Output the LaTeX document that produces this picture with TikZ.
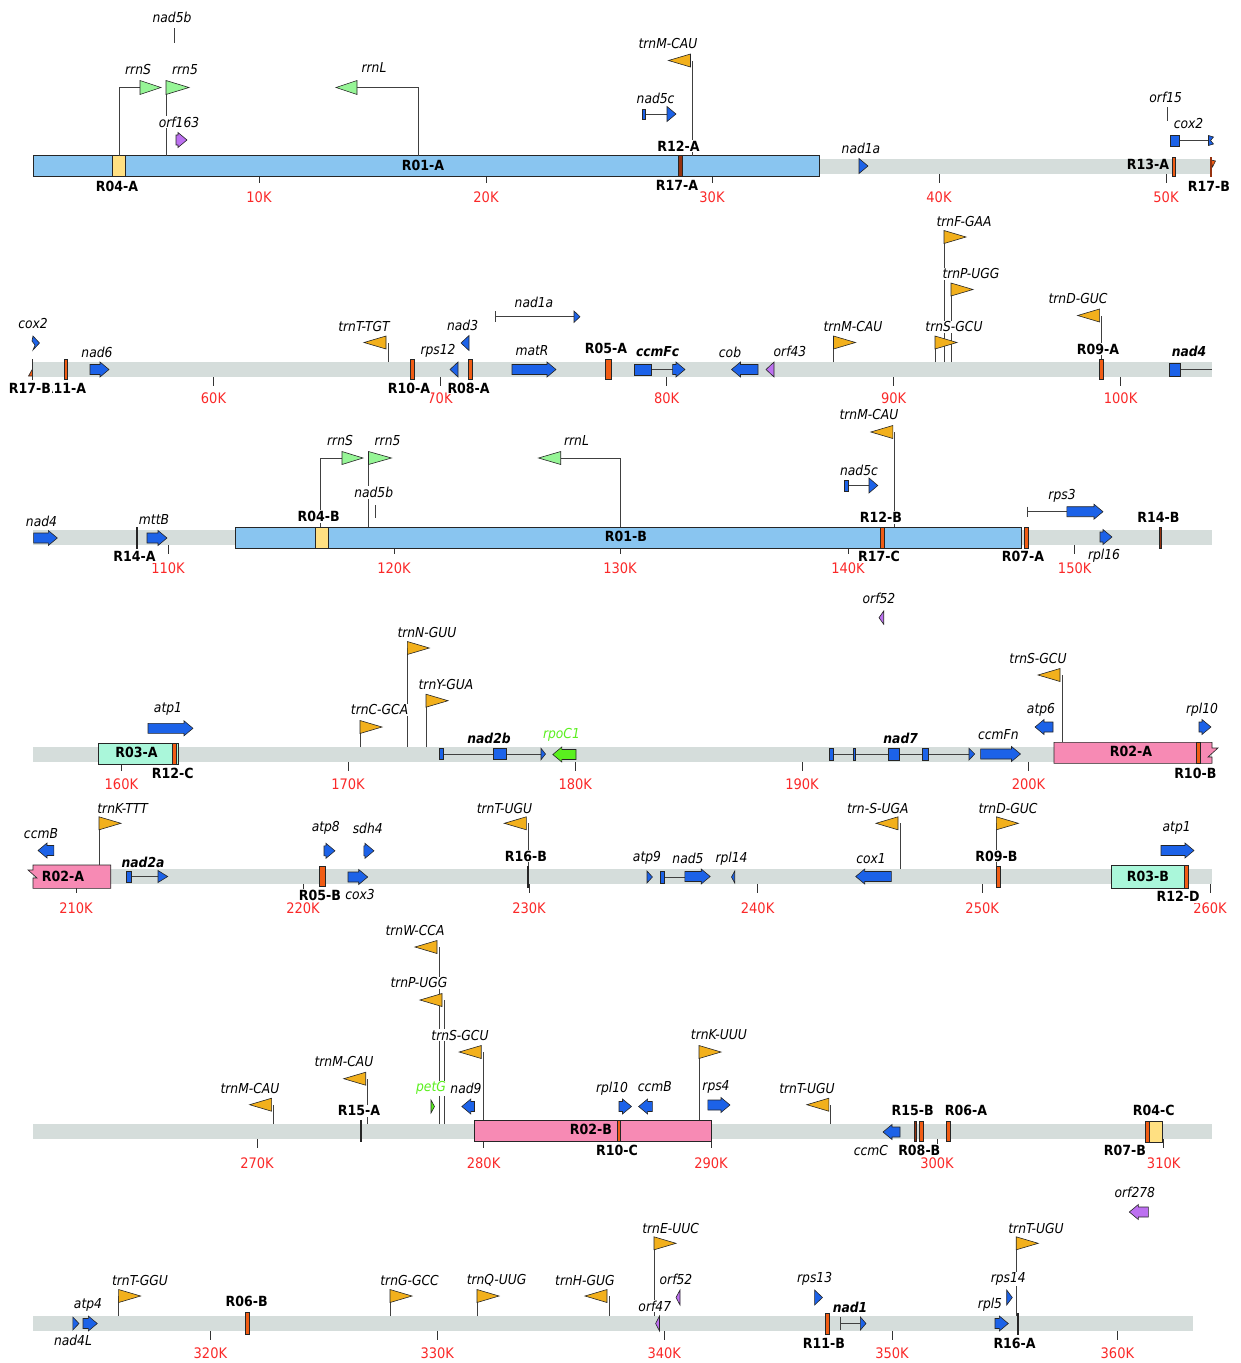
\documentclass[tikz,border=0pt]{standalone}
\usepackage{fontspec}
\setmainfont{DejaVu Sans Condensed}
\definecolor{barcol}{RGB}{213,221,219}
\definecolor{genecol}{RGB}{28,98,232}
\definecolor{trnacol}{RGB}{242,176,28}
\definecolor{rrnacol}{RGB}{150,245,150}
\definecolor{orfcol}{RGB}{188,112,240}
\definecolor{plastcol}{RGB}{90,240,30}
\definecolor{boxblue}{RGB}{137,197,240}
\definecolor{boxyellow}{RGB}{255,224,130}
\definecolor{boxpink}{RGB}{247,138,180}
\definecolor{boxaqua}{RGB}{170,247,218}
\definecolor{repor}{RGB}{240,92,20}
\definecolor{repdark}{RGB}{150,50,15}
\definecolor{tickred}{RGB}{250,40,40}
\newcommand{\genefont}{\fontsize{13.7}{15}\selectfont\itshape}
\newcommand{\genebold}{\fontsize{13.7}{15}\selectfont\bfseries\itshape}
\newcommand{\repfont}{\fontsize{14}{16}\selectfont\bfseries}
\newcommand{\tickfont}{\fontsize{14.5}{16}\selectfont}
\newcommand{\fwdgene}[4][genecol]{%
  \pgfmathsetmacro{\hx}{max(#2,#3-9)}%
  \draw[feat,fill=#1] (#2,#4-5) -- (\hx,#4-5) -- (\hx,#4-7.5) -- (#3,#4) -- (\hx,#4+7.5) -- (\hx,#4+5) -- (#2,#4+5) -- cycle;}
\newcommand{\revgene}[4][genecol]{%
  \pgfmathsetmacro{\hx}{min(#3,#2+9)}%
  \draw[feat,fill=#1] (#3,#4-5) -- (\hx,#4-5) -- (\hx,#4-7.5) -- (#2,#4) -- (\hx,#4+7.5) -- (\hx,#4+5) -- (#3,#4+5) -- cycle;}
\newcommand{\flagR}[3]{%
  \draw[pole] (#1,#3) -- (#1,#2);
  \draw[feat,fill=trnacol] (#1,#2-6.5) -- (#1+22,#2) -- (#1,#2+6.5) -- cycle;}
\newcommand{\flagL}[3]{%
  \draw[pole] (#1,#3) -- (#1,#2);
  \draw[feat,fill=trnacol] (#1-2,#2-6.5) -- (#1-24,#2) -- (#1-2,#2+6.5) -- cycle;}
\newcommand{\repmark}[4][repor]{\draw[feat,fill=#1] (#2-1.8,#3) rectangle (#2+1.8,#4);}
\tikzset{
  feat/.style={draw=black!85, line width=0.6pt},
  pole/.style={draw=black!75, line width=0.7pt},
  glab/.style={font=\genefont, fill=white, inner sep=1pt},
  gblab/.style={font=\genebold, fill=white, inner sep=1pt},
  rlab/.style={font=\repfont, fill=white, inner sep=1pt},
  inlab/.style={font=\repfont, inner sep=0pt},
  klab/.style={font=\tickfont, text=tickred, inner sep=0pt},
  tickline/.style={draw=black!80, line width=0.6pt}
}
\begin{document}
\begin{tikzpicture}[x=1pt,y=-1pt]
\useasboundingbox (0,0) rectangle (1240,1363);

\foreach \yc/\yk/\ticks in {166/197/{259/10,486/20,712/30,939/40,1166/50},
    369.5/398/{213.5/60,440/70,666.6/80,893.6/90,1120.6/100},
    537.5/568/{168/110,394/120,620/130,848/140,1074.7/150},
    754/784/{121.4/160,348/170,575.3/180,802/190,1028.5/200},
    876/908/{76/210,303/220,529/230,757.6/240,982.2/250,1210/260},
    1131/1163/{257/270,483.6/280,711/290,937/300,1163.7/310},
    1323/1353/{210.4/320,437.3/330,664.3/340,892/350,1117.4/360}}{
  \foreach \x/\k in \ticks {
    \draw[tickline] (\x,\yc+7.5) -- (\x,\yc+16.5);
    \node[klab] (k\k) at (\x,\yk) {\k K};
  }
}
\foreach \yc/\xe in {166/1212,369.5/1212,537.5/1212,754/1212,876/1211.5,1131/1212,1323/1193}
  \fill[barcol] (33,\yc-7.5) rectangle (\xe,\yc+7.5);

% track 1
\draw[feat,fill=boxblue] (33,155.5) rectangle (819,176);
\draw[feat,fill=boxyellow] (112.7,155.5) rectangle (125.7,176);
\draw[pole] (119,155.5) -- (119,87.5) -- (140,87.5);
\draw[feat,fill=rrnacol] (140,80.5) -- (161,87.5) -- (140,94.5) -- cycle;
\draw[pole] (166,155.5) -- (166,87.5);
\draw[feat,fill=rrnacol] (166,80.5) -- (189,87.5) -- (166,94.5) -- cycle;
\draw[pole] (418,155.5) -- (418,87.5) -- (357,87.5);
\draw[feat,fill=rrnacol] (357,80.5) -- (336,87.5) -- (357,94.5) -- cycle;
\draw[pole] (174,28) -- (174,43);
\fwdgene[orfcol]{176}{187}{140}
\flagL{692.5}{60.5}{155.5}
\draw[pole] (645,114) -- (667,114);
\draw[feat,fill=genecol] (642,109) rectangle (645.5,119);
\fwdgene{667}{676}{114}
\fwdgene{859}{868}{166}
\draw[pole] (1167.5,107) -- (1167.5,121);
\draw[pole] (1179,140.5) -- (1209,140.5);
\draw[feat,fill=genecol] (1170,135) rectangle (1179,146);
\draw[feat,fill=genecol] (1208.5,135.5) -- (1213.5,137) -- (1210.5,140.5) -- (1213.5,144) -- (1208.5,145.5) -- cycle;
\repmark[repdark]{680}{155.5}{176}
\repmark{1173.6}{157}{176}
\draw[feat,fill=repor] (1211,160) -- (1215.5,161) -- (1212.5,167) -- cycle;
\draw[repdark,line width=1.3pt] (1211,157) -- (1211,177);
\node[inlab] (r01a) at (423,165) {R01-A};
\node[inlab] (r13a) at (1148,164.5) {R13-A};
\node[rlab] (r04a) at (117,186) {R04-A};
\node[rlab] (r12a) at (678.5,146) {R12-A};
\node[rlab] (r17a) at (677,185) {R17-A};
\node[rlab] (r17b) at (1209,186) {R17-B};
\node[glab] (nad5b-a) at (172,17) {nad5b};
\node[glab] (rrnS-a) at (138,70) {rrnS};
\node[glab] (rrn5-a) at (185,70) {rrn5};
\node[glab] (orf163) at (179,122) {orf163};
\node[glab] (rrnL-a) at (374,68) {rrnL};
\node[glab] (trnM-a) at (668,44) {trnM-CAU};
\node[glab] (nad5c-a) at (655.6,98) {nad5c};
\node[glab] (nad1a-a) at (861,148) {nad1a};
\node[glab] (orf15) at (1165.7,97) {orf15};
\node[glab] (cox2-a) at (1188.6,124) {cox2};

% track 2
\draw[feat,fill=repor] (32.5,369) -- (28.5,376) -- (32.5,376) -- cycle;
\draw[black!80,line width=0.8pt] (32.5,359) -- (32.5,380);
\draw[feat,fill=genecol] (33,336) -- (39.5,343) -- (33,350) -- (35,345) -- (32,341) -- cycle;
\repmark{65.6}{359}{379}
\fwdgene{90}{109}{369.5}
\flagL{388}{342.5}{362}
\repmark{412}{359}{379}
\revgene{450}{458}{369.5}
\revgene{461}{469}{343}
\repmark{470.5}{359}{379}
\draw[pole] (495.4,316.7) -- (574,316.7);
\draw[pole] (495.4,311) -- (495.4,322.4);
\draw[feat,fill=genecol] (574,311) -- (580,316.7) -- (574,322.4) -- cycle;
\fwdgene{512}{556}{369.5}
\draw[feat,fill=repor] (605.2,359) rectangle (610.8,379);
\draw[pole] (651,369.5) -- (673,369.5);
\draw[feat,fill=genecol] (634,364) rectangle (651,375);
\fwdgene{672.6}{685}{369.5}
\revgene{731.5}{758}{369.5}
\revgene[orfcol]{766}{774}{369.5}
\flagR{833.5}{342.5}{362}
\flagR{944}{237}{362}
\flagR{951}{289.5}{362}
\flagR{935}{342.5}{362}
\flagL{1101.6}{315.5}{359}
\repmark{1101}{359}{379}
\draw[pole] (1180.7,369.5) -- (1212,369.5);
\draw[feat,fill=genecol] (1169.6,363) rectangle (1180.7,376);
\node[rlab] (r11a) at (65,388) {R11-A};
\node[rlab] (r17b-2) at (30,388) {R17-B};
\node[rlab] (r10a) at (409,388) {R10-A};
\node[rlab] (r08a) at (468.6,388) {R08-A};
\node[rlab] (r05a) at (606,348) {R05-A};
\node[rlab] (r09a) at (1098,349) {R09-A};
\node[glab] (cox2-b) at (33,324) {cox2};
\node[glab] (nad6) at (97,352) {nad6};
\node[glab] (trnT-a) at (364,327) {trnT-TGT};
\node[glab] (rps12) at (438,351) {rps12};
\node[glab] (nad3) at (462.6,325) {nad3};
\node[glab] (nad1a-b) at (534,302) {nad1a};
\node[glab] (matR) at (532,351) {matR};
\node[gblab] (ccmFc) at (657.6,352) {ccmFc};
\node[glab] (cob) at (730,352) {cob};
\node[glab] (orf43) at (790,351) {orf43};
\node[glab] (trnM-b) at (853,327) {trnM-CAU};
\node[glab] (trnS-a) at (954,327) {trnS-GCU};
\node[glab] (trnF) at (964,222) {trnF-GAA};
\node[glab] (trnP-a) at (971,274) {trnP-UGG};
\node[glab] (trnD-a) at (1078,299) {trnD-GUC};
\node[gblab] (nad4-a) at (1189,351) {nad4};

% track 3
\fwdgene{33.6}{57.3}{538}
\draw[feat,fill=repdark] (136,527) rectangle (137.6,548);
\fwdgene{147}{167}{538}
\draw[feat,fill=boxblue] (235,527) rectangle (1021,548);
\draw[feat,fill=boxyellow] (315.5,527) rectangle (328,548);
\draw[pole] (320.7,527) -- (320.7,458) -- (342,458);
\draw[feat,fill=rrnacol] (342,451.5) -- (363,458) -- (342,464.5) -- cycle;
\draw[pole] (368.5,527) -- (368.5,458);
\draw[feat,fill=rrnacol] (368.5,451.5) -- (391.5,458) -- (368.5,464.5) -- cycle;
\draw[pole] (375.6,505) -- (375.6,518);
\draw[pole] (620,527) -- (620,458) -- (560.7,458);
\draw[feat,fill=rrnacol] (560.7,451.5) -- (538.5,458) -- (560.7,464.5) -- cycle;
\flagL{894.8}{432}{527}
\draw[pole] (848.5,485.5) -- (869,485.5);
\draw[feat,fill=genecol] (844.6,480) rectangle (848.5,491);
\fwdgene{869}{877.8}{485.5}
\repmark{882}{527}{548}
\repmark{1026}{527}{548}
\draw[pole] (1027,511.7) -- (1067,511.7);
\draw[pole] (1027,506.7) -- (1027,516.7);
\fwdgene{1066.8}{1103}{511.7}
\fwdgene{1100}{1112}{537}
\draw[feat,fill=repdark] (1159.7,527) rectangle (1161.3,548);
\node[inlab] (r01b) at (626,536) {R01-B};
\node[rlab] (r14a) at (134.4,556.7) {R14-A};
\node[rlab] (r04b) at (318.7,516.7) {R04-B};
\node[rlab] (r12b) at (881,517.3) {R12-B};
\node[rlab] (r17c) at (879,556.7) {R17-C};
\node[rlab] (r07a) at (1023,556.7) {R07-A};
\node[rlab] (r14b) at (1158.5,517) {R14-B};
\node[glab] (nad4-b) at (41.5,521.7) {nad4};
\node[glab] (mttB) at (154,519) {mttB};
\node[glab] (rrnS-b) at (340,440.7) {rrnS};
\node[glab] (rrn5-b) at (387.5,441) {rrn5};
\node[glab] (nad5b-b) at (373.7,492.7) {nad5b};
\node[glab] (rrnL-b) at (576.5,440) {rrnL};
\node[glab] (trnM-c) at (869,415) {trnM-CAU};
\node[glab] (nad5c-b) at (859,470) {nad5c};
\node[glab] (rps3) at (1062,496) {rps3};
\node[glab] (rpl16) at (1104,555.7) {rpl16};

% track 4
\draw[feat,fill=boxaqua] (98,743.3) rectangle (178.7,764);
\repmark{174}{743.3}{764}
\fwdgene{148}{193}{728.3}
\flagR{360}{727}{747}
\flagR{407.3}{648}{747}
\flagR{426}{700.7}{747}
\draw[pole] (440,754) -- (541,754);
\draw[feat,fill=genecol] (439.7,748.3) rectangle (442.9,759.3);
\draw[feat,fill=genecol] (493.5,748.3) rectangle (506,759.3);
\draw[feat,fill=genecol] (541,748.3) -- (545.5,754) -- (541,759.7) -- cycle;
\revgene[plastcol]{552.8}{576}{754.5}
\draw[feat,fill=orfcol] (883.7,611) -- (879,617.7) -- (883.7,624.3) -- cycle;
\draw[pole] (833.5,754) -- (969,754);
\foreach \xa/\xb in {829.6/833.5,853/855.7,888/899,922.5/928.4}
  \draw[feat,fill=genecol] (\xa,748.3) rectangle (\xb,760);
\draw[feat,fill=genecol] (969,748.3) -- (974.7,754) -- (969,760) -- cycle;
\fwdgene{980.6}{1020.5}{754}
\revgene{1035}{1053}{727}
\flagL{1062}{675}{742.3}
\draw[feat,fill=boxpink] (1054,742.3) -- (1212,742.3) -- (1212,748) -- (1218,748) -- (1208,757) -- (1212,757) -- (1212,763.3) -- (1054,763.3) -- cycle;
\repmark{1198}{742.3}{763.3}
\fwdgene{1199}{1211}{727}
\node[inlab] (r03a) at (136.4,752.7) {R03-A};
\node[inlab] (r02a) at (1131,751.7) {R02-A};
\node[rlab] (r12c) at (172.8,773.3) {R12-C};
\node[rlab] (r10b) at (1195.3,773.3) {R10-B};
\node[glab] (atp1-a) at (168,709.3) {atp1};
\node[glab] (trnC) at (379.6,710) {trnC-GCA};
\node[glab] (trnN) at (427,632.7) {trnN-GUU};
\node[glab] (trnY) at (446,685) {trnY-GUA};
\node[gblab] (nad2b) at (489,738.3) {nad2b};
\node[glab,text=plastcol] (rpoC1) at (561.5,735) {rpoC1};
\node[glab] (orf52-a) at (879,598.3) {orf52};
\node[gblab] (nad7) at (900.7,738.3) {nad7};
\node[glab] (ccmFn) at (998.4,735) {ccmFn};
\node[glab] (atp6) at (1041,710) {atp6};
\node[glab] (trnS-b) at (1038,658.3) {trnS-GCU};
\node[glab] (rpl10-a) at (1202,710) {rpl10};

% track 5
\draw[feat,fill=boxpink] (110.7,865) -- (33,865) -- (33,870) -- (28,870) -- (37,878) -- (33,878) -- (33,888.3) -- (110.7,888.3) -- cycle;
\revgene{38}{53.8}{850.5}
\flagR{99}{823.3}{865}
\draw[pole] (131.3,876.5) -- (158,876.5);
\draw[feat,fill=genecol] (126.5,871) rectangle (131.3,882.3);
\draw[feat,fill=genecol] (158,870.5) -- (167.7,876.5) -- (158,882.5) -- cycle;
\draw[feat,fill=repor] (318.8,866) rectangle (325,886.7);
\fwdgene{324}{335}{850.8}
\fwdgene{363.8}{374}{850.8}
\fwdgene{348}{367.7}{877}
\flagL{528.3}{823.3}{866}
\draw[feat,fill=repdark] (526.8,866) rectangle (528.2,887);
\draw[feat,fill=genecol] (647,871) -- (652.4,877) -- (647,883) -- cycle;
\draw[pole] (664.3,877) -- (685,877);
\draw[feat,fill=genecol] (660.3,871) rectangle (664.3,883);
\fwdgene{684.8}{710.2}{876.5}
\draw[feat,fill=genecol] (734.7,871) -- (731.5,877) -- (734.7,883) -- cycle;
\revgene{855.7}{891.3}{876.5}
\flagL{900}{823.3}{869}
\flagR{996.4}{823.3}{866}
\repmark{998}{866}{887}
\fwdgene{1161}{1194}{850.5}
\draw[feat,fill=boxaqua] (1111,865) rectangle (1188.6,888);
\repmark{1186}{865}{888}
\node[inlab] (r02a-2) at (63,876) {R02-A};
\node[inlab] (r03b) at (1148,876) {R03-B};
\node[rlab] (r05b) at (320,895) {R05-B};
\node[rlab] (r16b) at (525.9,856) {R16-B};
\node[rlab] (r09b) at (996.4,856) {R09-B};
\node[rlab] (r12d) at (1178,896.7) {R12-D};
\node[glab] (ccmB-a) at (41,833.3) {ccmB};
\node[glab] (trnK-a) at (122.6,808.3) {trnK-TTT};
\node[gblab] (nad2a) at (143,862) {nad2a};
\node[glab] (atp8) at (325.8,828.3) {atp8};
\node[glab] (sdh4) at (367.7,828.3) {sdh4};
\node[glab] (cox3) at (360,895) {cox3};
\node[glab] (trnT-b) at (504.5,808.3) {trnT-UGU};
\node[glab] (atp9) at (647,858.3) {atp9};
\node[glab] (nad5) at (688,858.3) {nad5};
\node[glab] (rpl14) at (731.5,858.3) {rpl14};
\node[glab] (cox1) at (871,858.3) {cox1};
\node[glab] (trnS-c) at (877.8,808.3) {trn-S-UGA};
\node[glab] (trnD-b) at (1008,808.3) {trnD-GUC};
\node[glab] (atp1-b) at (1176.7,828.3) {atp1};

% track 6
\flagL{273.6}{1104.7}{1124}
\flagL{367.7}{1078.7}{1124}
\draw[feat,fill=repdark] (359.8,1120.7) rectangle (361.4,1141.7);
\flagL{439}{947}{1124}
\flagL{444}{1000}{1124}
\flagL{483.2}{1052}{1120}
\draw[feat,fill=plastcol] (431,1100) -- (434.5,1106.5) -- (431,1113) -- cycle;
\revgene{461.8}{474.5}{1106.5}
\draw[feat,fill=boxpink] (474.5,1120) rectangle (711.7,1141.7);
\repmark{618.8}{1120}{1141.7}
\fwdgene{619}{631.5}{1106.5}
\revgene{638.6}{652.4}{1106.5}
\flagR{699}{1052}{1120}
\fwdgene{707.8}{730}{1105}
\flagL{830.8}{1104.7}{1124}
\revgene{883}{900}{1132}
\draw[feat,fill=repdark] (914.2,1121) rectangle (915.8,1141.7);
\repmark{921.3}{1121}{1141.7}
\repmark{948}{1121}{1141.7}
\draw[feat,fill=boxyellow] (1149,1121) rectangle (1162.5,1142);
\repmark{1147.5}{1121}{1142}
\node[inlab] (r02b) at (591,1129.3) {R02-B};
\node[rlab] (r15a) at (359,1110.7) {R15-A};
\node[rlab] (r10c) at (617,1150) {R10-C};
\node[rlab] (r15b) at (912.6,1110.7) {R15-B};
\node[rlab] (r08b) at (919.3,1150) {R08-B};
\node[rlab] (r06a) at (966,1110.7) {R06-A};
\node[rlab] (r04c) at (1153.8,1110.7) {R04-C};
\node[rlab] (r07b) at (1125,1150) {R07-B};
\node[glab] (trnM-d) at (250,1088.3) {trnM-CAU};
\node[glab] (trnM-e) at (344,1061.7) {trnM-CAU};
\node[glab] (trnW) at (415,930.7) {trnW-CCA};
\node[glab] (trnP-b) at (419,982.7) {trnP-UGG};
\node[glab] (trnS-d) at (460,1035) {trnS-GCU};
\node[glab,text=plastcol] (petG) at (431,1088.3) {petG};
\node[glab] (nad9) at (466,1088.3) {nad9};
\node[glab] (rpl10-b) at (612,1088.3) {rpl10};
\node[glab] (ccmB-b) at (654.8,1086.7) {ccmB};
\node[glab] (trnK-b) at (718.9,1035) {trnK-UUU};
\node[glab] (rps4) at (716,1086.7) {rps4};
\node[glab] (trnT-c) at (807,1088.3) {trnT-UGU};
\node[glab] (ccmC) at (871,1150) {ccmC};

% track 7
\draw[feat,fill=genecol] (72.8,1317) -- (79,1323.5) -- (72.8,1330) -- cycle;
\fwdgene{83}{97.3}{1323.5}
\flagR{118.6}{1296}{1316}
\repmark{247.5}{1312.7}{1334}
\flagR{390}{1296}{1316}
\flagR{477}{1296}{1316}
\flagL{609}{1296}{1316}
\flagR{654}{1243.3}{1316}
\draw[feat,fill=orfcol] (680,1290) -- (676,1297.5) -- (680,1305) -- cycle;
\draw[feat,fill=orfcol] (659.5,1316) -- (655.6,1323.5) -- (659.5,1331) -- cycle;
\fwdgene{814.6}{822.5}{1297.5}
\repmark{827.2}{1313}{1334}
\draw[pole] (840.6,1323.5) -- (860.4,1323.5);
\draw[pole] (840.6,1317) -- (840.6,1330);
\draw[feat,fill=genecol] (860.4,1317) -- (866,1323.5) -- (860.4,1330) -- cycle;
\draw[feat,fill=genecol] (1006.7,1290) -- (1012.3,1297.5) -- (1006.7,1305) -- cycle;
\fwdgene{995}{1008.3}{1323.5}
\flagR{1016.2}{1243.3}{1316}
\draw[feat,fill=repdark] (1017,1313) rectangle (1018.6,1334);
\revgene[orfcol]{1129.3}{1148.3}{1212}
\node[rlab] (r06b) at (246.7,1301.7) {R06-B};
\node[rlab] (r11b) at (824,1343.3) {R11-B};
\node[rlab] (r16a) at (1014.6,1343.3) {R16-A};
\node[glab] (nad4L) at (73,1340) {nad4L};
\node[glab] (atp4) at (88,1305) {atp4};
\node[glab] (trnT-d) at (140,1280) {trnT-GGU};
\node[glab] (trnG) at (409.6,1280) {trnG-GCC};
\node[glab] (trnQ) at (496.6,1280) {trnQ-UUG};
\node[glab] (trnH) at (585,1280) {trnH-GUG};
\node[glab] (trnE) at (670.6,1228.3) {trnE-UUC};
\node[glab] (orf52-b) at (676,1279.3) {orf52};
\node[glab] (orf47) at (654.8,1306) {orf47};
\node[glab] (rps13) at (814.6,1279) {rps13};
\node[gblab] (nad1) at (850,1307) {nad1};
\node[glab] (rps14) at (1008.3,1279) {rps14};
\node[glab] (rpl5) at (990,1305) {rpl5};
\node[glab] (trnT-e) at (1036,1228.3) {trnT-UGU};
\node[glab] (orf278) at (1134.8,1192.7) {orf278};
\end{tikzpicture}
\end{document}
